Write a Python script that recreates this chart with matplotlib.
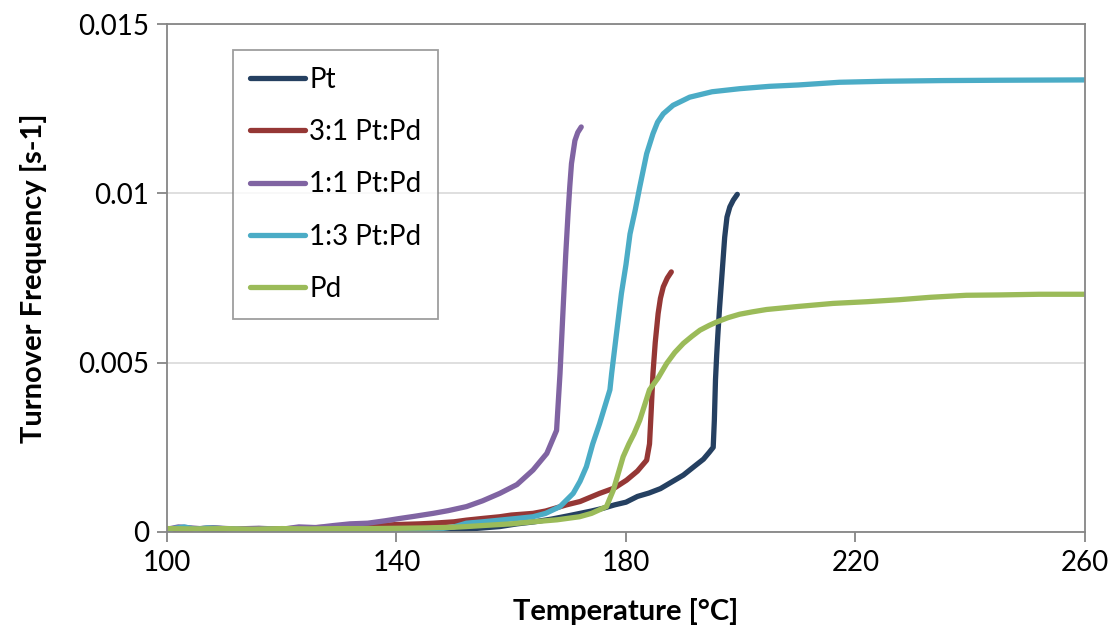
import matplotlib
matplotlib.use("Agg")
import matplotlib.pyplot as plt

# =======================
# DATA
# =======================
PT_T = [100, 104, 108, 112, 116, 120, 124, 128, 132, 136, 140, 144, 148, 150,
        152, 155, 158, 161, 164, 167, 170, 172, 174, 176, 178, 180, 182, 184,
        186, 188, 190, 192, 193.5, 194.5, 195.2, 195.4, 195.6, 195.8, 196.0,
        196.3, 196.6, 196.9, 197.2, 197.6, 198.1, 198.7, 199.4]
PT_Y = [0.00005, 0.00002, 0.0, 0.00001, 0.0, 0.00002, 0.0, 0.00001, 0.0, 0.0,
        -0.00002, 0.0, 0.0, 0.00003, 0.00008, 0.00012, 0.00016, 0.00024,
        0.0003, 0.00038, 0.00048, 0.00055, 0.00062, 0.0007, 0.0008, 0.00088,
        0.00105, 0.00115, 0.00128, 0.00148, 0.00168, 0.00195, 0.00215,
        0.00235, 0.0025, 0.0033, 0.0045, 0.0052, 0.0058, 0.0066, 0.0073,
        0.008, 0.0087, 0.0093, 0.0096, 0.0098, 0.00997]

PT31_T = [100, 104, 108, 112, 116, 120, 124, 128, 132, 136, 140, 144, 146.4,
          150, 152.2, 155, 158, 160, 163.8, 166, 169.6, 172, 175.4, 178, 180.1,
          182, 183.6, 184.1, 184.4, 184.7, 185.1, 185.6, 186.0, 186.5, 187.2,
          187.9]
PT31_Y = [0.0001, 0.00008, 0.00012, 0.00007, 0.0001, 0.00009, 0.00012,
          0.00014, 0.00016, 0.00018, 0.00022, 0.00024, 0.00026, 0.0003,
          0.00035, 0.0004, 0.00045, 0.0005, 0.00055, 0.00062, 0.0008, 0.0009,
          0.00114, 0.0013, 0.00153, 0.0018, 0.00212, 0.0026, 0.0036, 0.00468,
          0.0056, 0.00645, 0.0069, 0.00724, 0.0075, 0.00768]

PT11_T = [100, 102, 105.7, 108, 112, 116, 120, 123, 126, 129, 131.9, 135, 138,
          140.6, 143, 146.4, 149, 152.2, 155, 158, 161, 163.8, 166.2, 167.9,
          168.5, 169.0, 169.5, 169.9, 170.2, 170.5, 171.1, 171.6, 172.2]
PT11_Y = [0.00008, 0.00015, 0.0001, 0.00012, 0.00009, 0.00011, 0.00008,
          0.00015, 0.00013, 0.00019, 0.00024, 0.00026, 0.00033, 0.0004,
          0.00046, 0.00055, 0.00063, 0.00075, 0.00092, 0.00114, 0.0014,
          0.00183, 0.00232, 0.003, 0.00468, 0.00645, 0.0082, 0.0094, 0.0102,
          0.01088, 0.01156, 0.0118, 0.01196]

PT13_T = [100, 101, 103, 105, 107, 110, 114, 118, 122, 126, 130, 134, 138,
          141, 143.5, 147, 150, 152.2, 155, 158, 161, 163.8, 166, 168.5, 170.8,
          172, 173.1, 174.2, 175.4, 176.3, 177.2, 177.5, 178.3, 179.2, 180,
          180.7, 181.6, 182.4, 183.6, 184.7, 185.5, 186.5, 188.2, 191.1, 195,
          199.8, 205, 210, 217.2, 225, 235, 245, 260]
PT13_Y = [0.0, 0.0001, 0.00015, 0.00008, 0.00012, 0.0001, 0.00006, 0.00008,
          0.00004, 0.00006, 0.00003, 0.00002, 0.0, -0.00002, 0.0, 0.00008,
          0.00015, 0.00026, 0.0003, 0.00035, 0.0004, 0.00045, 0.00055,
          0.00075, 0.00114, 0.0015, 0.00193, 0.0026, 0.0032, 0.0037, 0.0042,
          0.00468, 0.0058, 0.00704, 0.0079, 0.0088, 0.0095, 0.01019, 0.01117,
          0.01176, 0.0121, 0.01235, 0.0126, 0.01284, 0.013, 0.01309, 0.01316,
          0.0132, 0.01328, 0.01331, 0.01333, 0.01334, 0.01335]

PD_T = [100, 105, 110, 115, 120, 125, 130, 135, 140.6, 145, 150, 152.2, 156,
        160, 163.8, 168, 171.9, 174, 176.6, 177.8, 178.6, 179.5, 180.5, 181.4,
        182.4, 184.1, 185.6, 187.1, 188.5, 190, 191.5, 192.9, 194.5, 195.8,
        197.8, 199.8, 202, 204.5, 210, 216.1, 222, 227.7, 233, 239.3, 245,
        252, 260]
PD_Y = [0.0001, 0.00009, 0.0001, 0.00008, 0.0001, 0.00009, 0.0001, 0.0001,
        0.00011, 0.00012, 0.00014, 0.00016, 0.0002, 0.00024, 0.0003, 0.00036,
        0.00045, 0.00055, 0.00075, 0.00124, 0.0017, 0.00222, 0.0026, 0.0029,
        0.0033, 0.0042, 0.00455, 0.00498, 0.0053, 0.00557, 0.00578, 0.00596,
        0.0061, 0.0062, 0.00633, 0.00643, 0.0065, 0.00657, 0.00666, 0.00675,
        0.0068, 0.00686, 0.00693, 0.00699, 0.007, 0.00702, 0.00702]

SERIES = [
    ("Pt", PT_T, PT_Y, "#254061"),
    ("3:1 Pt:Pd", PT31_T, PT31_Y, "#953735"),
    ("1:1 Pt:Pd", PT11_T, PT11_Y, "#8064A2"),
    ("1:3 Pt:Pd", PT13_T, PT13_Y, "#4BACC6"),
    ("Pd", PD_T, PD_Y, "#9BBB59"),
]
X_TICKS = [100, 140, 180, 220, 260]
Y_TICKS = [0, 0.005, 0.01, 0.015]
Y_TICK_LABELS = ["0", "0.005", "0.01", "0.015"]

AXIS_GRAY = "#868686"


def main():
    plt.rcParams["font.family"] = ["Lato", "DejaVu Sans"]
    fig = plt.figure(figsize=(11.11, 6.34), dpi=100)
    ax = fig.add_axes([0.1503, 0.1609, 0.8263, 0.8012])

    for label, t, y, color in SERIES:
        ax.plot(t, y, color=color, lw=3.8, label=label,
                solid_capstyle="round", solid_joinstyle="round")

    ax.set_xlim(100, 260)
    ax.set_ylim(0, 0.015)
    ax.set_xticks(X_TICKS)
    ax.set_yticks(Y_TICKS)
    ax.set_yticklabels(Y_TICK_LABELS)
    ax.grid(axis="y", color="#D9D9D9", lw=1.2)
    ax.set_axisbelow(True)

    for side in ["left", "bottom", "right", "top"]:
        ax.spines[side].set_color(AXIS_GRAY)
        ax.spines[side].set_linewidth(1.3)
    ax.tick_params(axis="both", direction="out", length=7, width=1.3,
                   color=AXIS_GRAY, labelsize=20, pad=6)

    ax.set_xlabel("Temperature [°C]", fontsize=21, fontweight="bold",
                  labelpad=16)
    ax.set_ylabel("Turnover Frequency [s-1]", fontsize=21, fontweight="bold",
                  labelpad=22)

    leg = ax.legend(loc="upper left", bbox_to_anchor=(0.0719, 0.949),
                    fancybox=False, frameon=True, fontsize=20,
                    handlelength=2.0, handletextpad=0.15, labelspacing=0.95,
                    borderpad=0.6, borderaxespad=0)
    leg.get_frame().set_edgecolor(AXIS_GRAY)
    leg.get_frame().set_linewidth(1.3)

    fig.savefig("out.png", dpi=100)
    plt.close(fig)


if __name__ == "__main__":
    main()
